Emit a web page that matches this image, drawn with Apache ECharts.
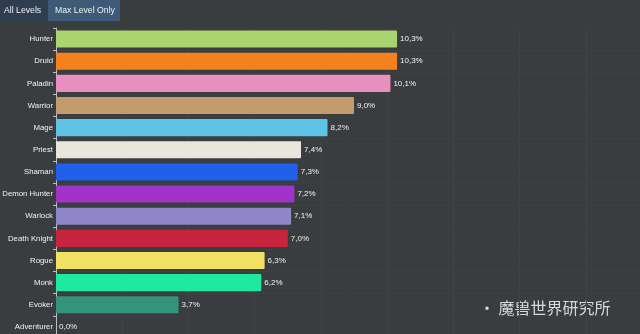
<!DOCTYPE html>
<html><head><meta charset="utf-8">
<script src="https://cdn.jsdelivr.net/npm/echarts@6/dist/echarts.min.js"></script>
<style>html,body{margin:0;padding:0;background:#3a3d40;}#c{width:640px;height:334px;}</style>
</head><body><div id="c"></div>
<script>
const categories = ["Hunter","Druid","Paladin","Warrior","Mage","Priest","Shaman","Demon Hunter","Warlock","Death Knight","Rogue","Monk","Evoker","Adventurer"];
const values = [10.3,10.3,10.1,9.0,8.2,7.4,7.3,7.2,7.1,7.0,6.3,6.2,3.7,0.0];
const colors = ["#a9d46f","#f5821f","#e98fc0","#c39b6c","#5fc3e6","#e9e6dc","#2160ea","#a233c9","#9086c9","#c9243d","#f1e162","#1fe8a1","#34937a","#888888"];
const buttons = ["All Levels","Max Level Only"];
const watermark = "· 魔兽世界研究所";

const FONT = '"Liberation Sans", Arial, sans-serif';
const chart = echarts.init(document.getElementById('c'), null, {renderer:'canvas'});
chart.setOption({
  backgroundColor:'#3a3d40',
  animation:false,
  grid:{left:56, top:28, width:596, height:310, containLabel:false, outerBoundsMode:'none'},
  xAxis:{type:'value', min:0, max:18, interval:2,
    axisLabel:{show:false}, axisLine:{show:false}, axisTick:{show:false},
    splitLine:{show:true, lineStyle:{color:'#404346', width:1}}},
  yAxis:{type:'category', data:categories, inverse:true,
    axisLine:{show:true, lineStyle:{color:'#b8bcc0', width:1}},
    axisTick:{show:true, length:3, lineStyle:{color:'#b8bcc0'}},
    axisLabel:{color:'#f2f2f2', fontSize:7.8, fontFamily:FONT, margin:3},
    splitLine:{show:true, lineStyle:{color:'#3e4144', width:1}}},
  series:[{type:'bar', data:values.map((v,i)=>({value:v, itemStyle:{color:colors[i]}})),
    barCategoryGap:'23%',
    itemStyle:{borderRadius:1},
    label:{show:true, position:'right', distance:3, color:'#f2f2f2', fontSize:8,
      fontFamily:FONT,
      formatter:p=>p.value.toFixed(1).replace('.',',')+'%'}}],
  graphic:[
    {type:'rect', left:0, top:0, shape:{width:47, height:21}, style:{fill:'#2e3d50'}},
    {type:'text', left:4, top:6, style:{text:buttons[0], fill:'#f0f0f0', font:'8.7px ' + FONT}},
    {type:'rect', left:48, top:0, shape:{width:72, height:21}, style:{fill:'#3e5a77'}},
    {type:'text', left:55, top:6, style:{text:buttons[1], fill:'#f0f0f0', font:'8.7px ' + FONT}},
    {type:'text', left:479, top:300, style:{text:watermark, fill:'#d8d8d8', font:'16px "Noto Sans CJK SC", sans-serif'}}
  ]
});
</script></body></html>
